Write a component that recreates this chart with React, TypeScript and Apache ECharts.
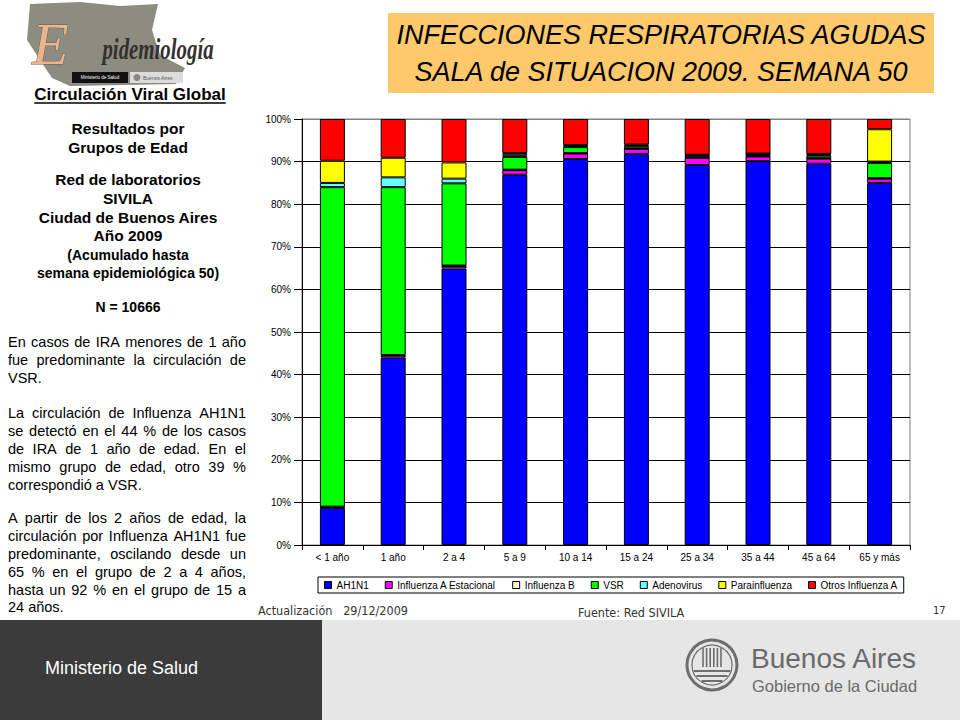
import React, { useEffect, useRef } from "react";
import * as echarts from "echarts";

// ---------- chart data (percent of positive samples per age group) ----------
const categories = ["< 1 año", "1 año", "2 a 4", "5 a 9", "10 a 14", "15 a 24", "25 a 34", "35 a 44", "45 a 64", "65 y más"];
const ah1n1 = [8.7, 44.0, 64.9, 86.9, 90.6, 91.8, 89.2, 90.1, 89.5, 85.0];
const influenzaAEstacional = [0.2, 0.5, 0.6, 1.1, 1.3, 1.2, 1.7, 1.1, 1.2, 1.0];
const influenzaB = [0.1, 0.1, 0.1, 0.1, 0.1, 0.1, 0.1, 0.1, 0.1, 0.1];
const vsr = [75.0, 39.4, 19.3, 3.0, 1.4, 0.5, 0.4, 0.4, 0.6, 3.6];
const adenovirus = [1.0, 2.3, 1.1, 0.4, 0.2, 0.2, 0.1, 0.1, 0.2, 0.3];
const parainfluenza = [5.2, 4.6, 3.8, 0.5, 0.3, 0.2, 0.1, 0.1, 0.2, 7.6];
const otrosInfluenzaA = [9.8, 9.1, 10.2, 8.0, 6.1, 6.0, 8.4, 8.1, 8.2, 2.4];
const seriesNames = ["AH1N1", "Influenza A Estacional", "Influenza B", "VSR", "Adenovirus", "Parainfluenza", "Otros Influenza A"];
const yTicks = [0, 10, 20, 30, 40, 50, 60, 70, 80, 90, 100];

// ---------- slide texts ----------
const titleLines = ["INFECCIONES RESPIRATORIAS AGUDAS", "SALA de SITUACION 2009. SEMANA 50"];
const headingText = "Circulación Viral Global";
const blockLines = [
  "Resultados por",
  "Grupos de Edad",
  "Red de laboratorios",
  "SIVILA",
  "Ciudad de Buenos Aires",
  "Año 2009",
  "(Acumulado hasta",
  "semana epidemiológica 50)",
  "N = 10666",
];
const paragraphs = [
  ["En casos de IRA menores de 1 año", "fue predominante la circulación de", "VSR."],
  [
    "La circulación de Influenza AH1N1",
    "se detectó en el 44 % de los casos",
    "de IRA de 1 año de edad. En el",
    "mismo grupo de edad, otro 39 %",
    "correspondió a VSR.",
  ],
  [
    "A partir de los 2 años de edad, la",
    "circulación por Influenza AH1N1 fue",
    "predominante, oscilando desde un",
    "65 % en el grupo de 2 a 4 años,",
    "hasta un 92 % en el grupo de 15 a",
    "24 años.",
  ],
];
const footerUpdate = "Actualización   29/12/2009";
const footerSource = "Fuente: Red SIVILA";
const pageNumber = "17";
const ministryText = "Ministerio de Salud";
const cityName = "Buenos Aires";
const cityGov = "Gobierno de la Ciudad";
const logoWord = "pidemiología";

const SANS = "'Liberation Sans', Arial, sans-serif";

let measureCtx: CanvasRenderingContext2D | null = null;
function textWidth(t: string, font: string): number {
  if (!measureCtx) measureCtx = document.createElement("canvas").getContext("2d");
  if (!measureCtx) return t.length * 7;
  measureCtx.font = font;
  return measureCtx.measureText(t).width;
}

function buildGraphics(): any[] {
  const g: any[] = [];
  // footer
  g.push({ type: "rect", shape: { x: 0, y: 620, width: 322, height: 100 }, style: { fill: "#3b3b3b" } });
  g.push({ type: "rect", shape: { x: 322, y: 620, width: 638, height: 100 }, style: { fill: "#e6e6e6" } });
  g.push({
    type: "text", x: 45, y: 668,
    style: { text: ministryText, font: `18px ${SANS}`, fill: "#ffffff", textVerticalAlign: "middle" },
  });
  // Buenos Aires logo
  const cx = 712, cy = 665;
  g.push({ type: "circle", shape: { cx, cy, r: 25 }, style: { fill: "none", stroke: "#6e6e6e", lineWidth: 3 } });
  g.push({ type: "circle", shape: { cx, cy, r: 20 }, style: { fill: "none", stroke: "#6e6e6e", lineWidth: 1.2 } });
  for (let i = 0; i < 6; i++) {
    const x = 703 + i * 3.6;
    g.push({ type: "line", shape: { x1: x, y1: 648, x2: x, y2: 667 }, style: { stroke: "#6e6e6e", lineWidth: 1.6 } });
  }
  [671, 676, 681].forEach((yy) => {
    const dx = Math.sqrt(Math.max(0, 19 * 19 - (yy - cy) * (yy - cy)));
    g.push({ type: "line", shape: { x1: cx - dx, y1: yy, x2: cx + dx, y2: yy }, style: { stroke: "#6e6e6e", lineWidth: 2 } });
  });
  g.push({
    type: "text", x: 751, y: 658,
    style: { text: cityName, font: `28px ${SANS}`, fill: "#6a6a6a", textVerticalAlign: "middle" },
  });
  g.push({
    type: "text", x: 752, y: 686,
    style: { text: cityGov, font: `16.5px ${SANS}`, fill: "#6a6a6a", textVerticalAlign: "middle" },
  });
  // footer texts
  const footFont = `12.5px 'DejaVu Sans Condensed', 'DejaVu Sans', sans-serif`;
  g.push({ type: "text", x: 258, y: 610, style: { text: footerUpdate, font: footFont, fill: "#333", textVerticalAlign: "middle" } });
  g.push({ type: "text", x: 578, y: 612, style: { text: footerSource, font: footFont, fill: "#333", textVerticalAlign: "middle" } });
  g.push({ type: "text", x: 933, y: 610, style: { text: pageNumber, font: `11px 'DejaVu Sans Condensed', 'DejaVu Sans'`, fill: "#333", textVerticalAlign: "middle" } });

  // title box
  g.push({ type: "rect", shape: { x: 388, y: 13, width: 546, height: 80 }, style: { fill: "#FDC96B" } });
  titleLines.forEach((t, i) => {
    g.push({
      type: "text", x: 661, y: i === 0 ? 35 : 72,
      style: {
        text: t, font: `italic 27px ${SANS}`, fill: "#000", textAlign: "center", textVerticalAlign: "middle",
        textShadowColor: "rgba(255,255,255,0.95)", textShadowOffsetX: 1.5, textShadowOffsetY: 1.5, textShadowBlur: 0,
      },
    });
  });

  // epidemiologia logo
  g.push({
    type: "polygon",
    shape: { points: [[30, 4], [80, 2], [120, 6], [158, 4], [152, 30], [160, 55], [185, 68], [176, 84], [70, 86], [52, 78], [40, 60], [27, 40]] },
    style: { fill: "#8d8c80" },
  });
  g.push({
    type: "text", x: 32, y: 44,
    style: { text: "E", font: `italic 60px 'Liberation Serif', serif`, fill: "#eab58c", stroke: "#6a5a4a", lineWidth: 0.8, textVerticalAlign: "middle" },
  });
  g.push({
    type: "text", x: 80, y: 49, scaleX: 0.72,
    style: { text: logoWord, font: `italic bold 29px 'Liberation Serif', serif`, fill: "#33312d", textVerticalAlign: "middle" },
    originX: 80, originY: 49,
  });
  g.push({ type: "rect", shape: { x: 72, y: 72, width: 56, height: 11 }, style: { fill: "#111" } });
  g.push({ type: "text", x: 100, y: 77.5, style: { text: ministryText, font: `4.5px ${SANS}`, fill: "#fff", textAlign: "center", textVerticalAlign: "middle" } });
  g.push({ type: "rect", shape: { x: 130, y: 72, width: 53, height: 11 }, style: { fill: "#dcdcdc" } });
  g.push({ type: "circle", shape: { cx: 137, cy: 77.5, r: 3.5 }, style: { fill: "#888" } });
  g.push({ type: "text", x: 143, y: 77.5, style: { text: cityName, font: `5px ${SANS}`, fill: "#555", textVerticalAlign: "middle" } });

  // heading
  const headFont = `bold 17px ${SANS}`;
  const hw = textWidth(headingText, headFont);
  g.push({ type: "text", x: 130, y: 94, style: { text: headingText, font: headFont, fill: "#000", textAlign: "center", textVerticalAlign: "middle" } });
  g.push({ type: "line", shape: { x1: 130 - hw / 2, y1: 103, x2: 130 + hw / 2, y2: 103 }, style: { stroke: "#000", lineWidth: 1.3 } });

  // centered block
  const blockY = [128, 147, 179, 198, 217, 235, 255, 273, 307];
  const blockSize = [15.5, 15.5, 15.5, 15.5, 15.5, 15.5, 14, 14, 14];
  blockLines.forEach((t, i) => {
    g.push({
      type: "text", x: 128, y: blockY[i],
      style: { text: t, font: `bold ${blockSize[i]}px ${SANS}`, fill: "#000", textAlign: "center", textVerticalAlign: "middle" },
    });
  });

  // justified paragraphs
  const pFont = `14.5px ${SANS}`;
  const x0 = 8, x1 = 246;
  const paraY = [[342, 360, 378], [413, 431, 449, 467, 485], [518, 536, 554, 572, 590, 607]];
  paragraphs.forEach((lines, pi) => {
    lines.forEach((line, li) => {
      const y = paraY[pi][li];
      const last = li === lines.length - 1;
      if (last) {
        g.push({ type: "text", x: x0, y, style: { text: line, font: pFont, fill: "#000", textVerticalAlign: "middle" } });
        return;
      }
      const words = line.split(/\s+/);
      const widths = words.map((w) => textWidth(w, pFont));
      const total = widths.reduce((a, b) => a + b, 0);
      const gap = (x1 - x0 - total) / (words.length - 1);
      let x = x0;
      words.forEach((w, wi) => {
        g.push({ type: "text", x, y, style: { text: w, font: pFont, fill: "#000", textVerticalAlign: "middle" } });
        x += widths[wi] + gap;
      });
    });
  });
  return g;
}

export default function App() {
  const ref = useRef<HTMLDivElement>(null);
  useEffect(() => {
    if (!ref.current) return;
    const chart = echarts.init(ref.current, null, { renderer: "svg" });
    const colors = ["#0000FF", "#FF00FF", "#FFFFCC", "#00FF00", "#66FFFF", "#FFFF00", "#FF0000"];
    const values = [ah1n1, influenzaAEstacional, influenzaB, vsr, adenovirus, parainfluenza, otrosInfluenzaA];
    const splitColors = yTicks.map((v) => (v === 100 ? "#808080" : "#000000"));
    chart.setOption({
      animation: false,
      backgroundColor: "#ffffff",
      color: colors,
      grid: { left: 302, top: 119, width: 608, height: 426, show: true, borderColor: "#808080", borderWidth: 1, backgroundColor: "transparent" },
      legend: {
        left: 318, top: 577,
        orient: "horizontal",
        icon: "rect",
        itemWidth: 7, itemHeight: 7, itemGap: 16,
        padding: [3, 6],
        borderColor: "#000", borderWidth: 1,
        backgroundColor: "#fff",
        textStyle: { fontSize: 10, color: "#000", fontFamily: SANS },
        itemStyle: { borderColor: "#000", borderWidth: 1 },
        data: seriesNames,
        selectedMode: false,
      },
      xAxis: {
        type: "category",
        data: categories,
        axisLine: { show: true, lineStyle: { color: "#000", width: 1 } },
        axisTick: { show: true, length: 5, lineStyle: { color: "#000" } },
        axisLabel: { color: "#000", fontSize: 10, fontFamily: SANS, margin: 7, interval: 0 },
        splitLine: { show: false },
      },
      yAxis: {
        type: "value",
        min: 0, max: 100, interval: 10,
        axisLine: { show: true, lineStyle: { color: "#000", width: 1 } },
        axisTick: { show: true, length: 8, lineStyle: { color: "#000" } },
        axisLabel: { color: "#000", fontSize: 10, fontFamily: SANS, margin: 11, formatter: "{value}%" },
        splitLine: { show: true, lineStyle: { color: splitColors, width: 1 } },
      },
      series: seriesNames.map((name, i) => ({
        type: "bar",
        name,
        stack: "total",
        data: values[i],
        barWidth: 25,
        itemStyle: { color: colors[i], borderColor: "#000", borderWidth: 1 },
        emphasis: { disabled: true },
      })),
      graphic: { elements: buildGraphics() },
    });
    return () => chart.dispose();
  }, []);
  return (
    <div style={{ position: "fixed", left: 0, top: 0, width: 960, height: 720, background: "#fff" }}>
      <div ref={ref} style={{ width: 960, height: 720 }} />
    </div>
  );
}
